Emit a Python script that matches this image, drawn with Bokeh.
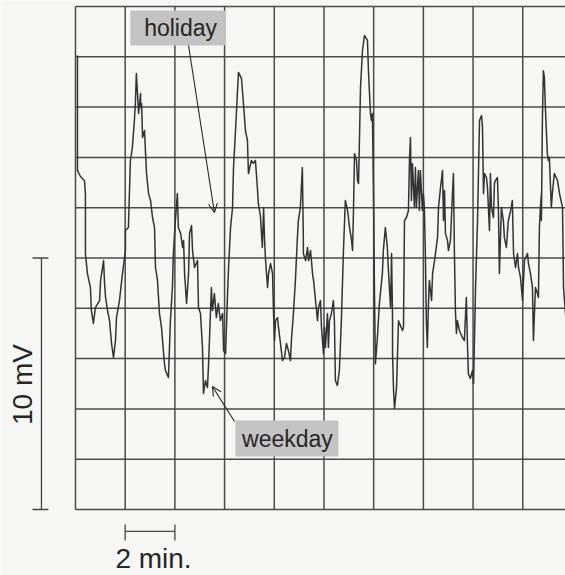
import math
from bokeh.plotting import figure
from bokeh.models import Arrow, OpenHead, Range1d
from bokeh.core.properties import value
from bokeh.embed import file_html
from bokeh.resources import INLINE

# ---- data (time in minutes, potential in mV) ----
time_min = [0.08, 0.08, 0.20, 0.36, 0.40, 0.40, 0.48, 0.60, 0.64, 0.72, 0.80, 0.97, 1.01, 1.13, 1.17, 1.21,
            1.29, 1.37, 1.45, 1.53, 1.61, 1.65, 1.77, 1.89, 2.01, 2.01, 2.13, 2.17, 2.21, 2.29, 2.37, 2.41,
            2.45, 2.54, 2.62, 2.62, 2.66, 2.70, 2.78, 2.82, 2.86, 2.94, 3.02, 3.10, 3.18, 3.22, 3.30, 3.38,
            3.46, 3.58, 3.62, 3.74, 3.82, 3.90, 3.94, 4.02, 4.10, 4.14, 4.23, 4.31, 4.35, 4.39, 4.47, 4.55,
            4.59, 4.67, 4.71, 4.79, 4.91, 4.95, 5.03, 5.11, 5.15, 5.23, 5.31, 5.35, 5.47, 5.51, 5.59, 5.67,
            5.75, 5.83, 5.92, 5.96, 6.04, 6.12, 6.16, 6.24, 6.32, 6.36, 6.44, 6.52, 6.56, 6.68, 6.76, 6.84,
            6.92, 6.96, 7.08, 7.16, 7.24, 7.32, 7.36, 7.44, 7.52, 7.57, 7.61, 7.65, 7.73, 7.77, 7.85, 7.93,
            7.97, 8.01, 8.05, 8.13, 8.17, 8.25, 8.33, 8.41, 8.49, 8.57, 8.65, 8.69, 8.77, 8.85, 8.93, 8.97,
            9.05, 9.13, 9.17, 9.17, 9.26, 9.34, 9.38, 9.46, 9.54, 9.58, 9.66, 9.74, 9.78, 9.86, 9.90, 9.98,
            10.02, 10.06, 10.14, 10.18, 10.22, 10.30, 10.38, 10.42, 10.46, 10.54, 10.62, 10.70, 10.78, 10.86,
            10.95, 11.03, 11.11, 11.15, 11.19, 11.23, 11.31, 11.35, 11.39, 11.43, 11.47, 11.55, 11.63, 11.75,
            11.79, 11.87, 11.91, 11.95, 11.99, 12.03, 12.07, 12.15, 12.23, 12.35, 12.39, 12.47, 12.55, 12.60,
            12.68, 12.72, 12.76, 12.76, 12.80, 12.84, 12.92, 12.96, 13.00, 13.04, 13.16, 13.20, 13.24, 13.32,
            13.40, 13.44, 13.48, 13.52, 13.56, 13.64, 13.68, 13.72, 13.80, 13.84, 13.88, 13.96, 14.00, 14.04,
            14.08, 14.12, 14.16, 14.20, 14.24, 14.33, 14.37, 14.45, 14.57, 14.61, 14.69, 14.77, 14.81, 14.85,
            14.89, 14.97, 15.01, 15.09, 15.17, 15.21, 15.25, 15.29, 15.33, 15.37, 15.45, 15.57, 15.65, 15.73,
            15.77, 15.81, 15.89, 15.98, 16.02, 16.10, 16.18, 16.22, 16.26, 16.34, 16.38, 16.42, 16.46, 16.54,
            16.58, 16.66, 16.70, 16.74, 16.82, 16.86, 16.90, 16.98, 17.02, 17.06, 17.14, 17.22, 17.26, 17.34,
            17.42, 17.54, 17.58, 17.63, 17.71, 17.79, 17.83, 17.91, 17.99, 18.07, 18.19, 18.23, 18.31, 18.39,
            18.43, 18.51, 18.59, 18.63, 18.67, 18.71, 18.75, 18.75, 18.79, 18.83, 18.87, 18.91, 18.99, 19.03,
            19.07, 19.15, 19.19, 19.27, 19.40, 19.48, 19.60, 19.64, 19.72, 19.80]

potential_mv = [18.05, 13.48, 13.24, 13.08, 12.56, 10.18, 9.38, 8.83, 7.91, 7.40, 8.03, 8.31, 9.11, 9.90, 8.99, 8.43,
                7.91, 7.51, 6.60, 6.04, 6.72, 7.63, 8.31, 9.38, 10.30, 11.09, 11.21, 12.56, 13.88, 14.39, 15.47, 16.14,
                17.34, 15.75, 16.54, 15.98, 16.14, 14.79, 15.07, 14.15, 13.36, 12.56, 12.29, 11.61, 11.21, 9.62, 9.11, 7.79,
                7.24, 5.80, 5.53, 5.25, 7.51, 8.83, 10.18, 11.49, 12.56, 11.21, 10.97, 10.42, 10.70, 9.38, 8.19, 9.38,
                10.97, 11.29, 10.30, 9.62, 9.90, 8.03, 7.79, 6.44, 4.61, 5.13, 4.85, 5.65, 8.83, 7.91, 8.59, 7.63,
                8.19, 7.51, 7.79, 6.32, 6.20, 8.59, 9.62, 11.21, 12.01, 13.60, 15.07, 16.66, 17.38, 17.14, 16.14, 15.07,
                14.67, 13.36, 13.88, 13.76, 13.88, 12.80, 12.17, 11.69, 10.42, 12.01, 10.70, 9.90, 8.83, 9.38, 9.78, 9.38,
                7.79, 6.72, 7.51, 7.63, 7.24, 6.60, 5.92, 6.04, 6.60, 6.32, 5.92, 6.72, 7.79, 9.11, 10.81, 11.49,
                12.01, 13.60, 10.81, 10.18, 9.90, 10.42, 9.90, 10.30, 9.38, 9.11, 8.31, 7.51, 8.03, 8.31, 7.24, 6.20,
                7.24, 6.44, 7.79, 6.44, 7.51, 7.79, 8.31, 7.51, 5.13, 4.93, 5.53, 7.51, 10.18, 12.29,
                11.89, 11.21, 10.70, 10.30, 12.01, 14.15, 13.88, 13.08, 12.96, 14.79, 16.78, 18.25, 18.85, 18.65,
                17.45, 15.75, 15.47, 15.75, 12.80, 8.83, 5.80, 6.84, 8.19, 9.38, 10.30, 11.21, 10.42, 9.38,
                8.03, 10.18, 7.51, 6.20, 4.73, 4.02, 4.85, 6.20, 7.51, 7.40, 7.12, 7.24, 11.49, 11.61,
                11.89, 13.88, 14.79, 12.29, 13.76, 12.01, 13.60, 12.01, 13.48, 11.89, 13.48, 11.89, 12.56, 12.01,
                10.18, 7.51, 6.44, 8.03, 9.11, 8.31, 9.38, 9.90, 10.81, 12.01, 12.80, 13.48, 11.49, 12.68,
                10.97, 10.70, 10.30, 10.70, 12.56, 13.36, 10.18, 7.91, 7.00, 7.51, 7.12, 6.84, 6.72, 8.43,
                6.72, 5.41, 5.21, 5.53, 5.01, 8.83, 11.49, 13.48, 15.47, 15.67, 15.19, 12.56, 13.36, 13.20,
                12.80, 11.09, 13.36, 12.01, 11.61, 12.96, 13.08, 13.20, 12.01, 9.38, 12.01, 11.49, 10.81, 10.42,
                11.49, 12.01, 12.29, 10.18, 9.62, 10.18, 9.62, 9.22, 8.31, 9.90, 10.18, 9.78, 9.38, 8.83,
                6.72, 8.83, 8.59, 8.43, 11.21, 12.01, 12.56, 11.49, 15.47, 17.45, 17.18, 15.98, 14.15, 13.88,
                14.00, 12.01, 12.56, 13.36, 13.08, 12.56, 12.01, 8.83, 7.79, 7.12]

grid_times = [0, 2, 4, 6, 8, 10, 12, 14, 16, 18, 20]      # min, one division = 2 min
grid_mv = [0, 2, 4, 6, 8, 10, 12, 14, 16, 18, 20]         # mV, one division = 2 mV
scale_mv = 10       # vertical scale bar
scale_min = 2       # horizontal scale bar

FONT = "Liberation Sans"
INK = "#262626"
GRID = "#4a4a4a"

p = figure(width=565, height=575, output_backend="svg", toolbar_location=None,
           x_axis_location=None, y_axis_location=None,
           x_range=Range1d(-3.018, 19.72), y_range=Range1d(-2.624, 20.239),
           min_border=0, min_border_left=0, min_border_right=0,
           min_border_top=0, min_border_bottom=0)
p.xgrid.visible = False
p.ygrid.visible = False
p.outline_line_color = None
p.background_fill_color = "#f6f6f5"
p.border_fill_color = "#f6f6f5"

t0, t1 = grid_times[0], grid_times[-1]
v0, v1 = grid_mv[0], grid_mv[-1]

# grid
p.segment(x0=grid_times, y0=[v0] * len(grid_times), x1=grid_times, y1=[v1] * len(grid_times),
          line_color=GRID, line_width=1.5)
p.segment(x0=[t0] * len(grid_mv), y0=grid_mv, x1=[t1] * len(grid_mv), y1=grid_mv,
          line_color=GRID, line_width=1.5)

# trace
p.line(time_min, potential_mv, line_color="#333333", line_width=1.5, line_join="round")

# annotation boxes
p.quad(left=[2.21, 6.44], right=[6.04, 10.58], top=[19.84, 3.54], bottom=[18.45, 2.11],
       fill_color="#c3c3c3", line_color=None)
p.text(x=[4.23, 8.53], y=[19.13, 2.82], text=["holiday", "weekday"],
       text_font=value(FONT), text_font_size="23px", text_color=INK,
       text_align="center", text_baseline="middle")

# arrows
p.add_layout(Arrow(x_start=4.55, y_start=18.45, x_end=5.59, y_end=11.81,
                   line_color=INK, line_width=1.1,
                   end=OpenHead(size=9, line_color=INK, line_width=1.1)))
p.add_layout(Arrow(x_start=6.40, y_start=3.50, x_end=5.51, y_end=4.89,
                   line_color=INK, line_width=1.1,
                   end=OpenHead(size=9, line_color=INK, line_width=1.1)))

# vertical scale bar (10 mV)
bx = -1.37
p.segment(x0=[bx, -1.73, -1.73], y0=[0, 0, scale_mv], x1=[bx, -1.09, -1.09], y1=[scale_mv, 0, scale_mv],
          line_color="#444444", line_width=1.3)
p.text(x=[-2.13], y=[4.97], text=["10 mV"], angle=math.pi / 2,
       text_font=value(FONT), text_font_size="28px", text_color=INK,
       text_align="center", text_baseline="middle")

# horizontal scale bar (2 min)
by = -0.87
p.segment(x0=[2, 2, 2 + scale_min], y0=[by, -0.60, -0.60], x1=[2 + scale_min, 2, 2 + scale_min], y1=[by, -1.23, -1.23],
          line_color="#444444", line_width=1.3)
p.text(x=[3.14], y=[-1.95], text=["2 min."],
       text_font=value(FONT), text_font_size="28px", text_color=INK,
       text_align="center", text_baseline="middle")

open("out.html", "w").write(file_html(p, INLINE))
